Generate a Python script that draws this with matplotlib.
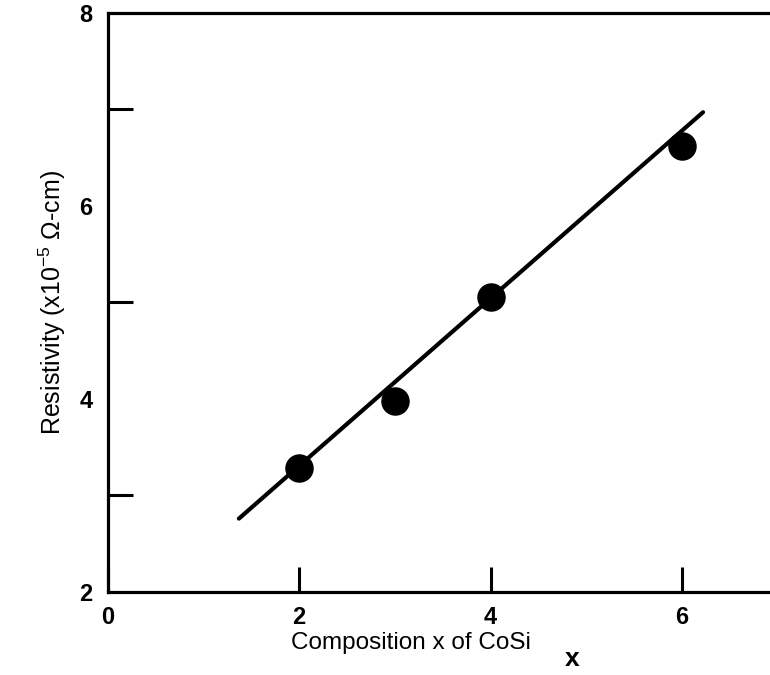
import matplotlib.pyplot as plt
from matplotlib.ticker import FixedLocator

plt.rcParams['font.family'] = ['Liberation Sans', 'DejaVu Sans']
plt.rcParams['mathtext.fontset'] = 'custom'
plt.rcParams['mathtext.rm'] = 'Liberation Sans'

# measured resistivity vs composition
composition = [2, 3, 4, 6]
resistivity = [3.28, 3.98, 5.06, 6.62]

# straight-line fit drawn through the data
fit_x = [1.37, 6.22]
fit_y = [2.76, 6.97]

x_ticks = [0, 2, 4, 6]
y_labels = [2, 4, 6, 8]
y_marks = [3, 5, 7]

fig = plt.figure(figsize=(7.7, 6.75), dpi=100)
ax = fig.add_axes([0.140, 0.123, 0.860, 0.858])

ax.plot(fit_x, fit_y, color='black', lw=3.0, solid_capstyle='round')
ax.plot(composition, resistivity, 'o', color='black', ms=19.5)

ax.set_xlim(0, 6.92)
ax.set_ylim(2, 8)

for side in ['left', 'bottom', 'top']:
    ax.spines[side].set_linewidth(2.3)
ax.spines['right'].set_visible(False)

ax.set_xticks(x_ticks)
ax.set_yticks(y_labels)
ax.yaxis.set_minor_locator(FixedLocator(y_marks))
ax.tick_params(axis='x', direction='in', length=18, width=2.2, pad=10,
               labelsize=17)
ax.tick_params(axis='y', which='major', length=0, pad=11, labelsize=17)
ax.tick_params(axis='y', which='minor', direction='in', length=18, width=2.2)
for lbl in ax.get_xticklabels() + ax.get_yticklabels():
    lbl.set_fontweight('bold')

ax.set_xlabel('Composition x of CoSi', fontsize=17.5)
ax.xaxis.set_label_coords(0.458, -0.069, transform=ax.transAxes)
ax.xaxis.label.set_va('top')
# subscript x sits well below and right of the label
ax.annotate('x', xy=(1, 0), xycoords=ax.xaxis.label, xytext=(24, -9),
            textcoords='offset points', fontsize=19, fontweight='bold',
            ha='left', va='baseline')

ax.set_ylabel('Resistivity (x10$^{\\mathregular{-5}}$ Ω-cm)', fontsize=18,
              labelpad=8)

fig.savefig('out.png', dpi=100)
